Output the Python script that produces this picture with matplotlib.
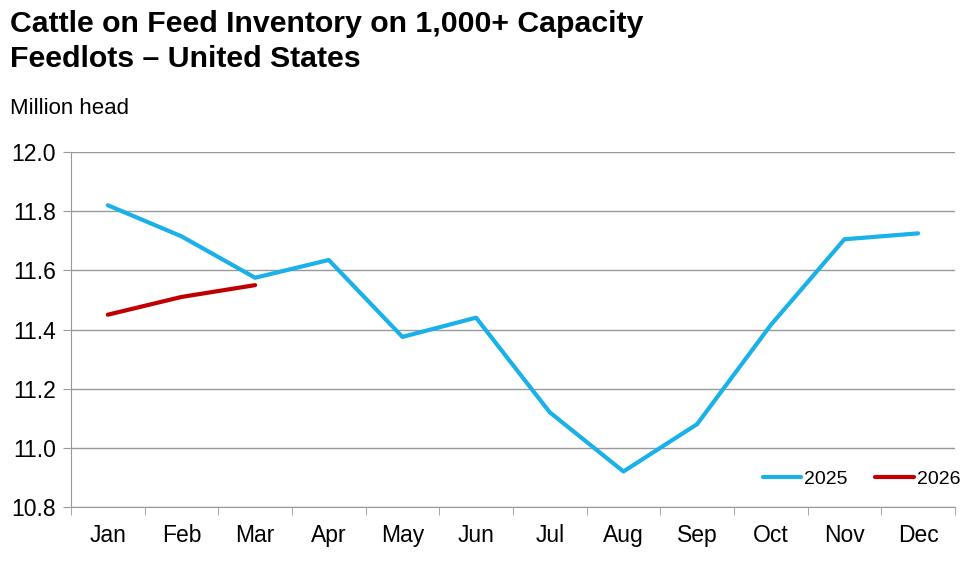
import matplotlib.pyplot as plt

plt.rcParams['font.family'] = ['Liberation Sans', 'DejaVu Sans']

months = ["Jan", "Feb", "Mar", "Apr", "May", "Jun", "Jul", "Aug", "Sep", "Oct", "Nov", "Dec"]
inv_2025 = [11.82, 11.715, 11.575, 11.635, 11.375, 11.44, 11.12, 10.92, 11.08, 11.415, 11.705, 11.725]
inv_2026 = [11.45, 11.51, 11.55]

fig = plt.figure(figsize=(9.8, 5.76), dpi=100)
ax = fig.add_axes([0.0724, 0.1198, 0.902, 0.6163])

x = list(range(len(months)))
ax.plot(x, inv_2025, color="#1AB0E8", lw=3, label="2025", solid_capstyle="round")
ax.plot(x[:len(inv_2026)], inv_2026, color="#C00000", lw=3, label="2026", solid_capstyle="round")

ax.set_xlim(-0.5, 11.5)
ax.set_ylim(10.8, 12.0)
ax.set_yticks([10.8, 11.0, 11.2, 11.4, 11.6, 11.8, 12.0])
ax.set_yticklabels([f"{v:.1f}" for v in ax.get_yticks()])
ax.set_xticks(x)
ax.set_xticklabels(months)
ax.set_xticks([i - 0.5 for i in range(13)], minor=True)
ax.tick_params(axis="x", which="major", length=0, pad=12, labelsize=16.5)
ax.tick_params(axis="x", which="minor", length=6, color="#999999", direction="out")
ax.tick_params(axis="y", length=6, color="#999999", labelsize=16.5, pad=5)
ax.grid(axis="y", color="#999999", lw=1)
ax.set_axisbelow(True)
for s in ["top", "right"]:
    ax.spines[s].set_visible(False)
for s in ["left", "bottom"]:
    ax.spines[s].set_color("#999999")

ax.legend(loc="lower right", ncol=2, frameon=False, fontsize=14, handlelength=2.0,
          handletextpad=0.15, columnspacing=1.4, bbox_to_anchor=(1.026, 0.005))

fig.text(0.010, 0.982, "Cattle on Feed Inventory on 1,000+ Capacity\nFeedlots \u2013 United States",
         fontsize=21.8, fontweight="bold", va="top", ha="left", linespacing=1.32)
fig.text(0.010, 0.812, "Million head", fontsize=16, va="center", ha="left")

fig.savefig("out.png", dpi=100)
